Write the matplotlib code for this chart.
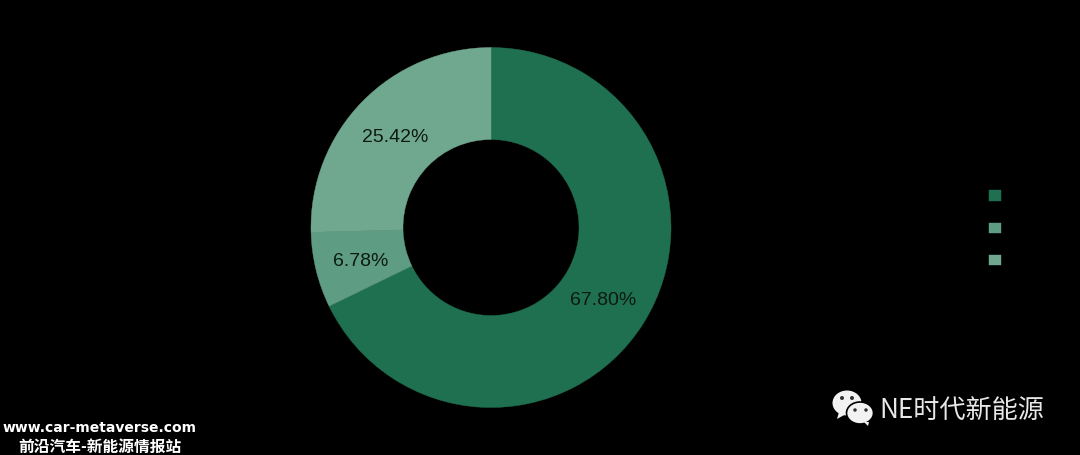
"""Donut chart of three shares with watermark texts on black background."""
import matplotlib
matplotlib.use("Agg")
import matplotlib.pyplot as plt
from matplotlib.patches import Ellipse, Polygon

# ── data ────────────────────────────────────────────────────────────────────
values = [67.80, 6.78, 25.42]
colors = ["#1e7050", "#5f9c84", "#70a88f"]
legend_labels = [" ", " ", " "]
site_text = "www.car-metaverse.com"
site_cn_text = "前沿汽车-新能源情报站"
brand_text = "NE时代新能源"

W, H = 1080, 456
CJK = ["Noto Sans CJK SC", "DejaVu Sans"]

fig = plt.figure(figsize=(W / 100, H / 100), dpi=100, facecolor="black")
ax = fig.add_axes([0, 0, 1, 1])
ax.set_xlim(0, W)
ax.set_ylim(0, H)
ax.axis("off")

wedges, _, pct = ax.pie(
    values, colors=colors, center=(491, H - 228.5), radius=180,
    startangle=90, counterclock=False, autopct="%.2f%%", pctdistance=0.74,
    wedgeprops=dict(width=92, linewidth=0),
    textprops=dict(family="Liberation Sans", fontsize=14, color="#0d1a14"),
)
# thin edge in each wedge's own colour hides the seam between slices
for w, c in zip(wedges, colors):
    w.set_edgecolor(c)
    w.set_linewidth(0.3)
ax.set_xlim(0, W)
ax.set_ylim(0, H)
for t in pct:
    x, y = t.get_position()
    t.set_position((x - 0.5, y - 1.5))

# legend labels are invisible in the source, only the swatches show
ax.legend(wedges, legend_labels, loc="center", bbox_to_anchor=(1002, H - 229.5),
          bbox_transform=ax.transData, frameon=False, fontsize=8.64,
          handlelength=1, handleheight=1, labelspacing=1.6, labelcolor="black")

# ── watermark, bottom left ──────────────────────────────────────────────────
ax.text(100, H - 428, site_text, ha="center", va="center", color="white",
        family="DejaVu Sans", fontsize=10, fontweight="bold")
ax.text(100, H - 447, site_cn_text, ha="center", va="center", color="white",
        family=CJK, fontsize=11.3, fontweight="bold")

# ── wechat badge, bottom right ──────────────────────────────────────────────
ax.add_patch(Ellipse((847, H - 404), 29, 25, fc="#f2f2f2", ec="none"))
ax.add_patch(Polygon([(839, H - 413), (837, H - 420), (846, H - 415)], fc="#f2f2f2", ec="none"))
ax.add_patch(Ellipse((860, H - 414), 27, 22, fc="#f2f2f2", ec="black", lw=1.2, zorder=3))
ax.add_patch(Polygon([(864, H - 423), (869, H - 423), (868, H - 427)], fc="#f2f2f2", ec="none", zorder=3))
for ex, ey, er in [(842, 399, 4), (852, 399, 4), (855, 411, 3.5), (866, 411, 3.5)]:
    ax.add_patch(Ellipse((ex, H - ey), er, er, fc="#333333", ec="none", zorder=4))
ax.text(879, H - 410.5, brand_text, ha="left", va="center", color="#e8e8e8",
        family=CJK, fontsize=18.8)

fig.savefig("out.png", dpi=100, facecolor="black")
plt.close(fig)
